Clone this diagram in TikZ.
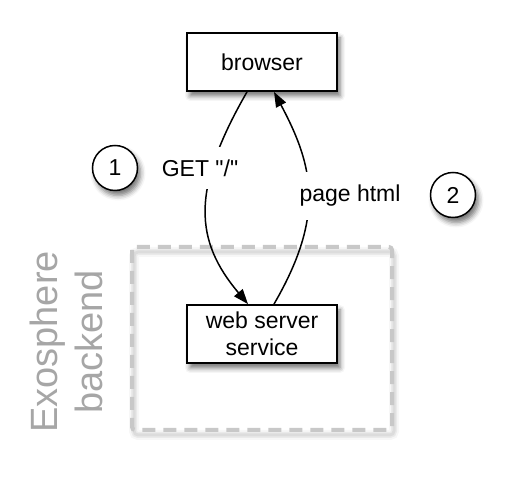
\documentclass[tikz,border=0pt]{standalone}
\usepackage{fontspec}
\setmainfont{Liberation Sans}[Ligatures=TeXOff]
\usetikzlibrary{arrows.meta,shadows.blur}
\definecolor{grouptext}{HTML}{A6A6A6}
\definecolor{groupline}{HTML}{C8C8C8}
\begin{document}
\begin{tikzpicture}[x=1pt,y=1pt,
  shade/.style={blur shadow={shadow xshift=3pt,shadow yshift=-5pt,shadow blur radius=5pt,shadow opacity=55}},
  box/.style={draw,line width=1.8pt,fill=white,minimum width=150pt,minimum height=58pt,
    font=\fontsize{23}{27}\selectfont,align=center,inner sep=0pt,shade},
  num/.style={circle,draw,line width=1.5pt,fill=white,minimum size=45pt,inner sep=0pt,
    font=\fontsize{23}{27}\selectfont,shade},
  lbl/.style={fill=white,font=\fontsize{23}{27}\selectfont,inner xsep=3pt,inner ysep=13pt},
  conn/.style={line width=1.5pt,-{Triangle[length=15pt,width=11pt]}},
  group/.style={draw=groupline,line width=4pt,dash pattern=on 13pt off 8pt,rounded corners=3pt},
  groupshade/.style={draw=black,rounded corners=4pt}
]
\useasboundingbox (0,0) rectangle (516,478);
% group shadow
\draw[groupshade,line width=10pt,opacity=0.03] (134,226) rectangle (394,43);
\draw[groupshade,line width=6pt,opacity=0.05] (134,226) rectangle (394,43);
\draw[groupshade,line width=3pt,opacity=0.06] (134,226) rectangle (394,43);
% group
\draw[group] (132,231) rectangle (392,48);
\node[rotate=90,text=grouptext,font=\fontsize{38}{45}\selectfont,align=center] (grp) at (66,136) {Exosphere\\backend};
% nodes
\node[box] (browser) at (262,416) {browser};
\node[box] (web) at (262,144) {web server\\service};
\node[num] (n1) at (115,310) {1};
\node[num] (n2) at (453,283) {2};
% connectors
\draw[conn] ([xshift=-15pt]browser.south) .. controls +(-57,-99) and +(-53,63) .. ([xshift=-14pt]web.north);
\draw[conn] ([xshift=12pt]web.north) .. controls +(51,88) and +(40,-75) .. ([xshift=12pt]browser.south);
% labels
\node[lbl] (get) at (200,310) {GET "/"};
\node[lbl] (page) at (350,282) {page html};
\end{tikzpicture}
\end{document}
